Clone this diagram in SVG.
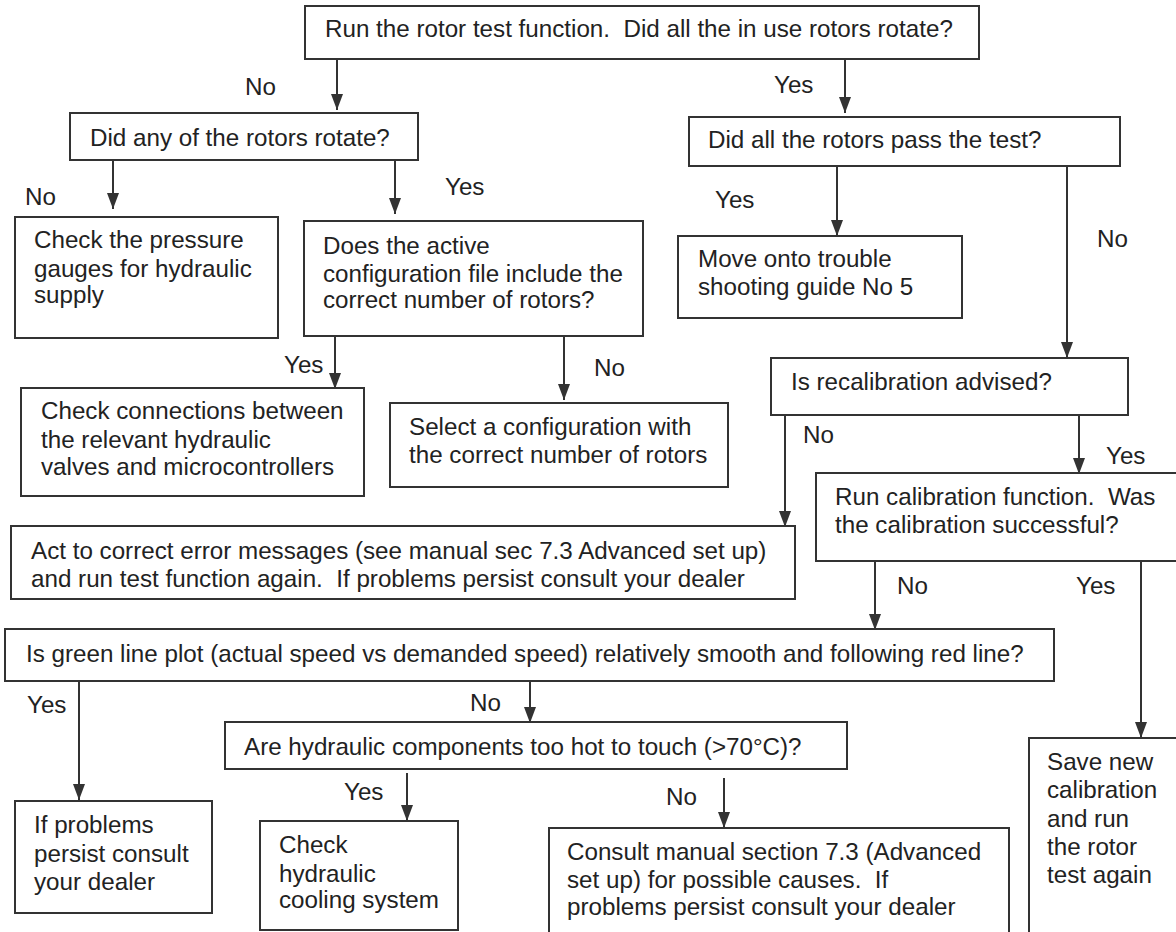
<svg xmlns="http://www.w3.org/2000/svg" width="1176" height="932" viewBox="0 0 1176 932">
<defs>
<style>
.box{fill:none;stroke:#333;stroke-width:2}
.t{font-family:"Liberation Sans",Arial,sans-serif;font-size:24.2px;fill:#222;white-space:pre}
.c{stroke:#333;stroke-width:2;fill:none;marker-end:url(#ah)}
</style>
<marker id="ah" markerUnits="userSpaceOnUse" markerWidth="16" markerHeight="16" viewBox="0 0 16 12" refX="16" refY="6" orient="auto">
<path d="M0,0 L16,6 L0,12 z" fill="#333"/>
</marker>
</defs>
<rect width="1176" height="932" fill="#fff"/>
<g id="connectors">
<line class="c" x1="337" y1="59" x2="337" y2="110"/>
<line class="c" x1="845" y1="60" x2="845" y2="113"/>
<line class="c" x1="113" y1="160" x2="113" y2="209"/>
<line class="c" x1="395" y1="160" x2="395" y2="214"/>
<line class="c" x1="837" y1="167" x2="837" y2="236"/>
<line class="c" x1="1067" y1="167" x2="1067" y2="358"/>
<line class="c" x1="335" y1="336" x2="335" y2="389"/>
<line class="c" x1="564" y1="336" x2="564" y2="400"/>
<line class="c" x1="785" y1="415" x2="785" y2="527"/>
<line class="c" x1="1079" y1="415" x2="1079" y2="474"/>
<line class="c" x1="875" y1="562" x2="875" y2="630"/>
<line class="c" x1="1141" y1="561" x2="1141" y2="738"/>
<line class="c" x1="79" y1="681" x2="79" y2="800"/>
<line class="c" x1="530" y1="682" x2="530" y2="723"/>
<line class="c" x1="407" y1="773" x2="407" y2="821"/>
<line class="c" x1="724" y1="778" x2="724" y2="828"/>
<g class="t">
<text x="245" y="95">No</text>
<text x="774" y="93">Yes</text>
<text x="25" y="205">No</text>
<text x="445" y="195">Yes</text>
<text x="715" y="208">Yes</text>
<text x="1097" y="247">No</text>
<text x="284" y="373">Yes</text>
<text x="594" y="376">No</text>
<text x="803" y="443">No</text>
<text x="1106" y="464">Yes</text>
<text x="897" y="594">No</text>
<text x="1076" y="594">Yes</text>
<text x="27" y="713">Yes</text>
<text x="470" y="711">No</text>
<text x="344" y="800">Yes</text>
<text x="666" y="805">No</text>
</g>
</g>
<g id="n1"><rect class="box" x="305" y="6" width="674" height="53"/><text class="t" x="325" y="37">Run the rotor test function.  Did all the in use rotors rotate?</text></g>
<g id="n2"><rect class="box" x="70" y="113" width="348" height="47"/><text class="t" x="90" y="146">Did any of the rotors rotate?</text></g>
<g id="n3"><rect class="box" x="689" y="117" width="431" height="49"/><text class="t" x="708" y="148">Did all the rotors pass the test?</text></g>
<g id="n4"><rect class="box" x="15" y="217" width="263" height="121"/><text class="t" x="34" y="248">Check the pressure</text><text class="t" x="34" y="277">gauges for hydraulic</text><text class="t" x="34" y="303">supply</text></g>
<g id="n5"><rect class="box" x="304" y="221" width="339" height="115"/><text class="t" x="323" y="254">Does the active</text><text class="t" x="323" y="282">configuration file include the</text><text class="t" x="323" y="308">correct number of rotors?</text></g>
<g id="n6"><rect class="box" x="678" y="236" width="284" height="82"/><text class="t" x="698" y="267">Move onto trouble</text><text class="t" x="698" y="295">shooting guide No 5</text></g>
<g id="n7"><rect class="box" x="771" y="358" width="357" height="57"/><text class="t" x="791" y="390">Is recalibration advised?</text></g>
<g id="n8"><rect class="box" x="21" y="388" width="343" height="108"/><text class="t" x="41" y="419">Check connections between</text><text class="t" x="41" y="448">the relevant hydraulic</text><text class="t" x="41" y="475">valves and microcontrollers</text></g>
<g id="n9"><rect class="box" x="390" y="403" width="338" height="84"/><text class="t" x="409" y="435">Select a configuration with</text><text class="t" x="409" y="463">the correct number of rotors</text></g>
<g id="n10"><rect class="box" x="816" y="473" width="366" height="88"/><text class="t" x="835" y="505">Run calibration function.  Was</text><text class="t" x="835" y="533">the calibration successful?</text></g>
<g id="n11"><rect class="box" x="11" y="526" width="784" height="73"/><text class="t" x="31" y="559">Act to correct error messages (see manual sec 7.3 Advanced set up)</text><text class="t" x="31" y="587">and run test function again.  If problems persist consult your dealer</text></g>
<g id="n12"><rect class="box" x="5" y="629" width="1049" height="52"/><text class="t" x="26" y="662">Is green line plot (actual speed vs demanded speed) relatively smooth and following red line?</text></g>
<g id="n13"><rect class="box" x="225" y="722" width="622" height="47"/><text class="t" x="244" y="755">Are hydraulic components too hot to touch (&gt;70°C)?</text></g>
<g id="n14"><rect class="box" x="15" y="801" width="197" height="112"/><text class="t" x="34" y="833">If problems</text><text class="t" x="34" y="862">persist consult</text><text class="t" x="34" y="890">your dealer</text></g>
<g id="n15"><rect class="box" x="260" y="821" width="198" height="109"/><text class="t" x="279" y="853">Check</text><text class="t" x="279" y="882">hydraulic</text><text class="t" x="279" y="908">cooling system</text></g>
<g id="n16"><rect class="box" x="549" y="828" width="460" height="112"/><text class="t" x="567" y="860">Consult manual section 7.3 (Advanced</text><text class="t" x="567" y="888">set up) for possible causes.  If</text><text class="t" x="567" y="915">problems persist consult your dealer</text></g>
<g id="n17"><rect class="box" x="1029" y="738" width="152" height="202"/><text class="t" x="1047" y="770">Save new</text><text class="t" x="1047" y="798">calibration</text><text class="t" x="1047" y="827">and run</text><text class="t" x="1047" y="855">the rotor</text><text class="t" x="1047" y="883">test again</text></g>
</svg>
